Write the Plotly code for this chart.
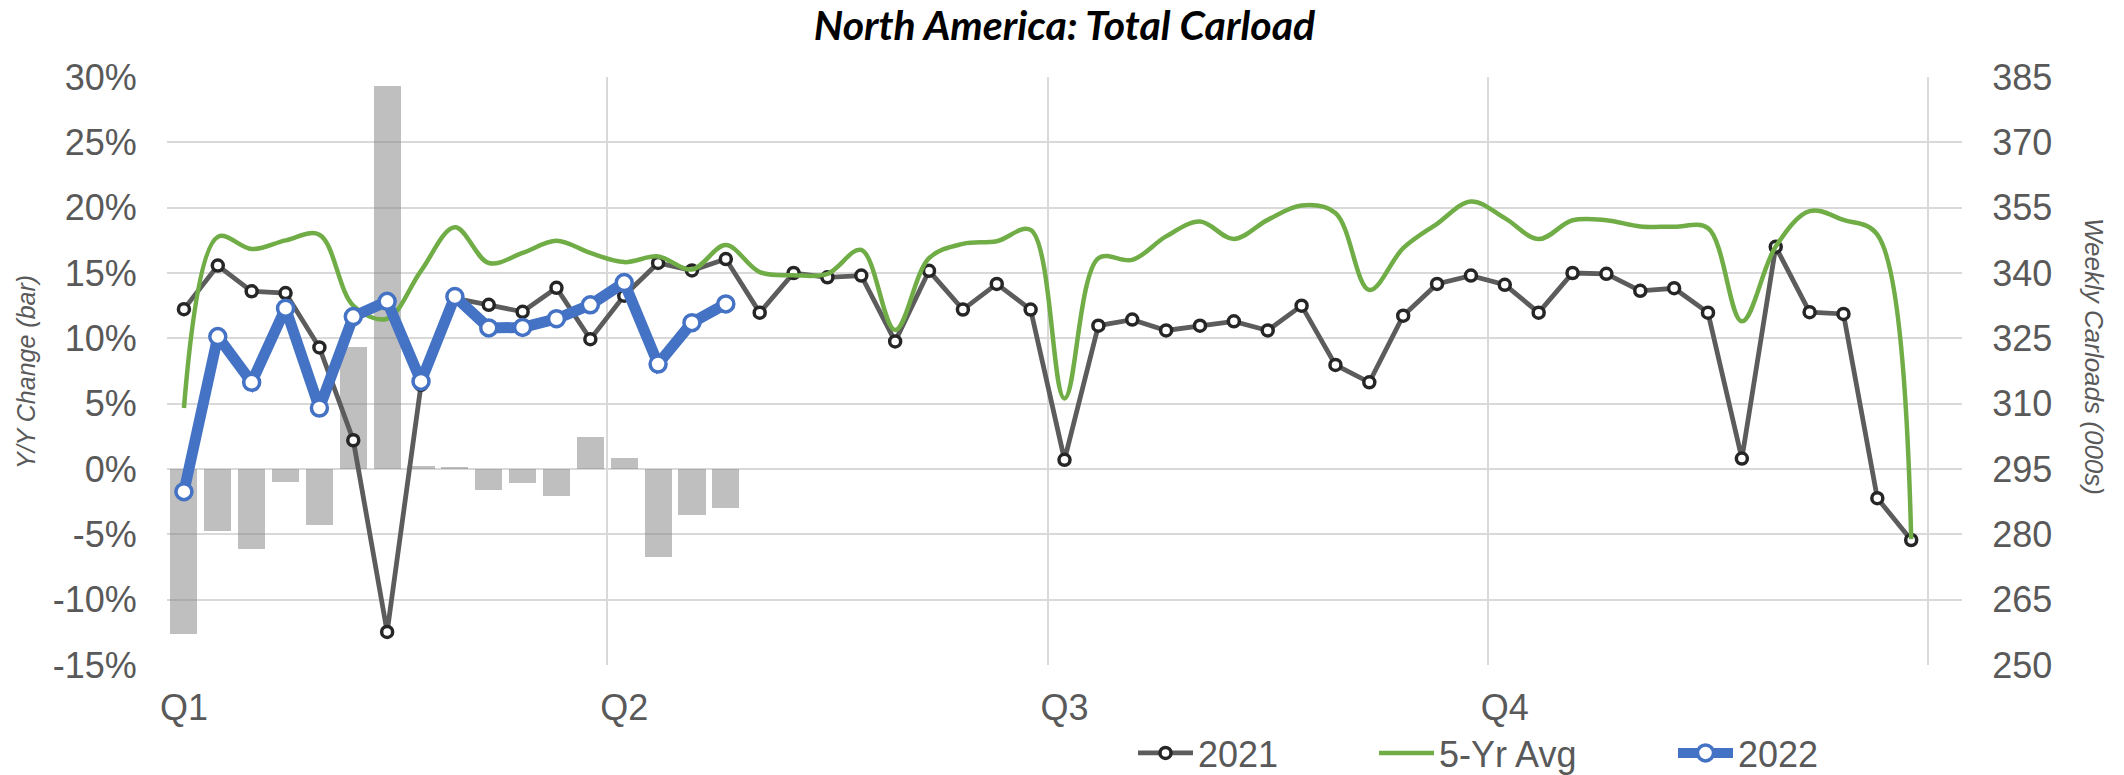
import plotly.graph_objects as go

# ---------------- data ----------------
weeks = list(range(1, 53))
quarter_weeks = [1, 14, 27, 40]
quarter_labels = ["Q1", "Q2", "Q3", "Q4"]
quarter_bounds = [0.5, 13.5, 26.5, 39.5, 52.5]

carloads_2021 = [331.7, 341.7, 335.8, 335.4, 322.9, 301.6, 257.6, 314.3, 334.2, 332.7,
                 331.1, 336.6, 324.8, 334.8, 342.3, 340.6, 343.2, 330.9, 340.0, 339.0,
                 339.4, 324.3, 340.5, 331.6, 337.5, 331.6, 297.1, 327.9, 329.3, 326.8,
                 327.9, 328.9, 326.8, 332.5, 318.9, 314.9, 330.2, 337.5, 339.4, 337.3,
                 330.9, 340.0, 339.8, 335.9, 336.5, 330.9, 297.4, 346.0, 331.0, 330.6,
                 288.3, 278.7]

carloads_5yr = [309.0, 348.3, 345.5, 347.5, 348.8, 332.5, 329.5, 340.5, 350.5, 342.3,
                344.6, 347.4, 344.6, 342.5, 343.8, 340.8, 346.4, 340.2, 339.5, 339.8,
                345.3, 326.9, 343.4, 346.7, 347.3, 349.9, 311.2, 343.4, 343.0, 348.4,
                351.8, 347.8, 352.2, 355.5, 353.8, 336.1, 345.7, 351.3, 356.4, 352.6,
                347.8, 352.1, 352.1, 350.7, 350.6, 350.3, 328.9, 346.1, 354.2, 352.2,
                348.8, 278.9]

weeks_2022 = weeks[:17]
carloads_2022 = [289.8, 325.4, 314.9, 331.9, 309.0, 330.0, 333.5, 315.1, 334.6, 327.4,
                 327.5, 329.5, 332.7, 337.8, 319.1, 328.6, 332.9]

yy_change_pct = [-12.6, -4.74, -6.15, -0.97, -4.28, 9.36, 29.3, 0.26, 0.12, -1.6,
                 -1.1, -2.1, 2.42, 0.82, -6.76, -3.52, -3.0]

left_ticks = [-15, -10, -5, 0, 5, 10, 15, 20, 25, 30]
left_labels = ["-15%", "-10%", "-5%", "0%", "5%", "10%", "15%", "20%", "25%", "30%"]
right_ticks = [250, 265, 280, 295, 310, 325, 340, 355, 370, 385]
right_labels = [str(v) for v in right_ticks]

# ---------------- styling ----------------
FONT = "Liberation Sans, Arial, sans-serif"
TICK_COLOR = "#595959"
GRID = "#D9D9D9"
W, H = 2124, 775
X0, X1, Y0, Y1 = 167, 1962, 77, 665          # plot area in pixels
PW, PH = X1 - X0, Y1 - Y0


def px_x(px):
    return (px - X0) / PW


def px_y(py):
    return (Y1 - py) / PH


fig = go.Figure()

fig.add_trace(go.Bar(
    x=weeks_2022, y=yy_change_pct, width=0.8,
    marker=dict(color="rgba(128,128,128,0.5)", line=dict(width=0)),
    yaxis="y", showlegend=False, name="Y/Y Change",
))

fig.add_trace(go.Scatter(
    x=weeks, y=carloads_2021, name="2021", mode="lines+markers", yaxis="y2",
    line=dict(color="#5C5C5C", width=4.8),
    marker=dict(size=11, color="white", line=dict(color="#262626", width=3.5)),
    legend="legend",
))

fig.add_trace(go.Scatter(
    x=weeks, y=carloads_5yr, name="5-Yr Avg", mode="lines", yaxis="y2",
    line=dict(color="#70AD47", width=4.5, shape="spline", smoothing=1.0),
    legend="legend2",
))

fig.add_trace(go.Scatter(
    x=weeks_2022, y=carloads_2022, name="2022", mode="lines+markers", yaxis="y2",
    line=dict(color="#4472C4", width=11),
    marker=dict(size=16, color="white", line=dict(color="#4472C4", width=3.5)),
    legend="legend3",
))

legend_common = dict(
    xref="paper", yref="paper", xanchor="left", yanchor="middle",
    orientation="h", bgcolor="rgba(0,0,0,0)", borderwidth=0,
    font=dict(family=FONT, size=36, color=TICK_COLOR), itemwidth=55,
)
LEG_Y = px_y(753)

fig.update_layout(
    width=W, height=H,
    margin=dict(l=X0, r=W - X1, t=Y0, b=H - Y1, pad=0, autoexpand=False),
    paper_bgcolor="white", plot_bgcolor="white",
    font=dict(family=FONT, color=TICK_COLOR),
    bargap=0,
    title=dict(
        text="North America: Total Carload",
        font=dict(family="Lato, Carlito, sans-serif", size=41, color="black",
                  weight="bold", style="italic"),
        x=1064.5 / W, xanchor="center", xref="container",
        y=1 - 26 / H, yanchor="middle", yref="container",
    ),
    xaxis=dict(
        range=[0.5, 53.5], tickmode="array", tickvals=quarter_weeks, ticktext=quarter_labels,
        showgrid=False, zeroline=False, showline=False, automargin=False,
        ticks="outside", ticklen=11, tickcolor="rgba(0,0,0,0)",
        tickfont=dict(family=FONT, size=36, color=TICK_COLOR),
        minor=dict(tickmode="array", tickvals=quarter_bounds, showgrid=True,
                   gridcolor=GRID, gridwidth=2, ticks=""),
    ),
    yaxis=dict(
        range=[-15, 30], tickmode="array", tickvals=left_ticks, ticktext=left_labels,
        showgrid=True, gridcolor=GRID, gridwidth=2, zeroline=False, showline=False,
        automargin=False,
        ticks="outside", ticklen=22, tickcolor="rgba(0,0,0,0)",
        tickfont=dict(family=FONT, size=36, color=TICK_COLOR),
    ),
    yaxis2=dict(
        range=[250, 385], overlaying="y", side="right", tickmode="array",
        tickvals=right_ticks, ticktext=right_labels,
        showgrid=False, zeroline=False, showline=False, automargin=False,
        ticks="outside", ticklen=22, tickcolor="rgba(0,0,0,0)",
        tickfont=dict(family=FONT, size=36, color=TICK_COLOR),
    ),
    legend=dict(legend_common, x=px_x(1133), y=LEG_Y),
    legend2=dict(legend_common, x=px_x(1374), y=LEG_Y),
    legend3=dict(legend_common, x=px_x(1673), y=LEG_Y),
    annotations=[
        dict(text="Y/Y Change (bar)", textangle=-90, xref="paper", yref="paper",
             x=px_x(26), y=px_y(372),
             xanchor="center", yanchor="middle", showarrow=False,
             font=dict(family=FONT, size=25, color=TICK_COLOR, style="italic")),
        dict(text="Weekly Carloads (000s)", textangle=90, xref="paper", yref="paper",
             x=px_x(2094), y=px_y(356),
             xanchor="center", yanchor="middle", showarrow=False,
             font=dict(family=FONT, size=26, color=TICK_COLOR, style="italic")),
    ],
)

fig.write_html(
    "out.html",
    config={"displayModeBar": False},
    post_script="document.body.style.margin='0px';document.body.style.overflow='hidden';",
)
